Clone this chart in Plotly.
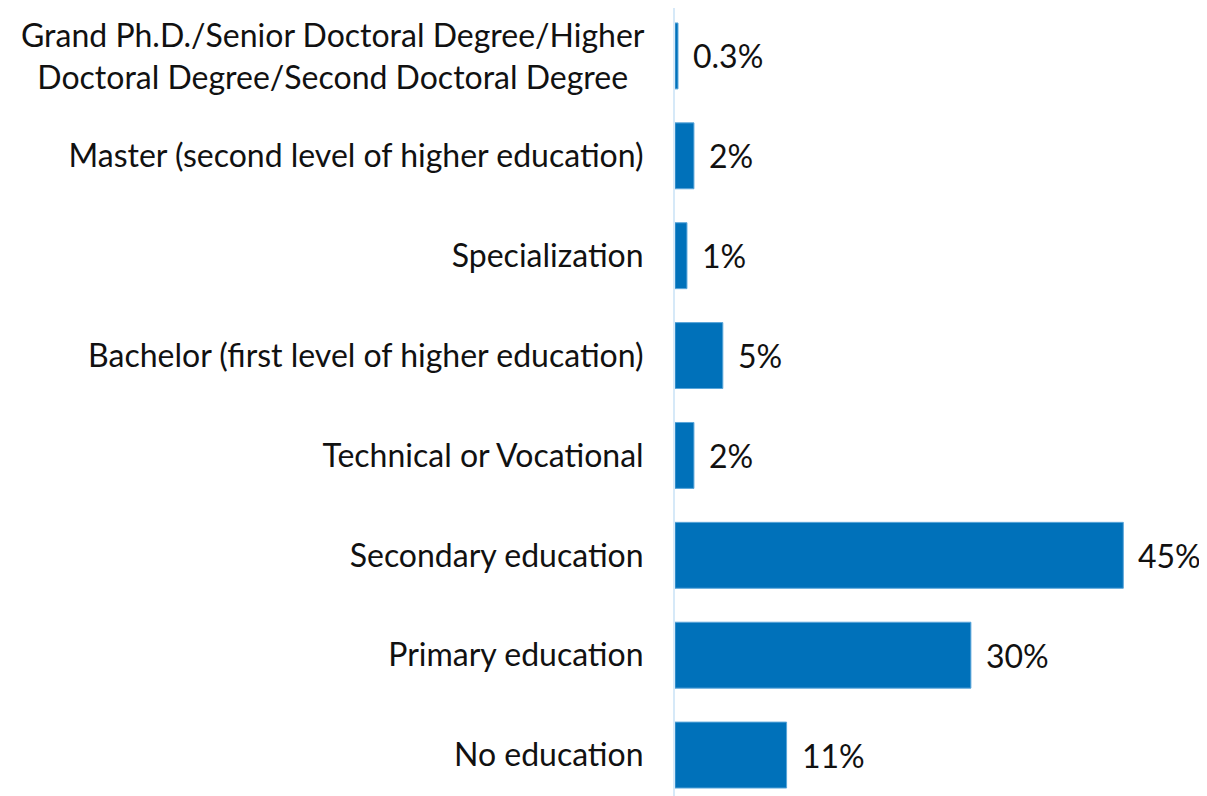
import plotly.graph_objects as go

categories = [
    "No education",
    "Primary education",
    "Secondary education",
    "Technical or Vocational",
    "Bachelor (first level of higher education)",
    "Specialization",
    "Master (second level of higher education)",
    "Grand Ph.D./Senior Doctoral Degree/Higher<br>Doctoral Degree/Second Doctoral Degree",
]
values = [11.2, 29.7, 45.0, 1.9, 4.8, 1.2, 1.9, 0.3]
labels = ["11%", "30%", "45%", "2%", "5%", "1%", "2%", "0.3%"]

BAR = "#0071BA"
FONT = "Lato, 'Noto Sans', sans-serif"
FS = 32

fig = go.Figure()
fig.add_trace(go.Bar(
    y=categories, x=values, orientation="h",
    marker=dict(color=BAR, line=dict(color="#5AA6DA", width=1)),
    hoverinfo="skip",
))

# value labels right of the bars
for c, v, t in zip(categories, values, labels):
    fig.add_annotation(x=v, y=c, text=t, showarrow=False, xanchor="left",
                       xshift=13, font=dict(size=FS, color="#111111", family=FONT))

# long two-line label, centred like the original
fig.add_annotation(x=0, y=categories[-1], xref="paper", text=categories[-1],
                   showarrow=False, xanchor="right", xshift=-28, align="center",
                   font=dict(size=FS, color="#111111", family=FONT))
ticktext = [c if "<br>" not in c else "" for c in categories]

fig.update_layout(
    width=1207, height=796,
    margin=dict(l=667, r=12, t=0, b=0),
    plot_bgcolor="white", paper_bgcolor="white",
    showlegend=False, bargap=0.34,
    font=dict(family=FONT, size=FS, color="#111111"),
    xaxis=dict(range=[0, 53], visible=False),
    yaxis=dict(range=[-0.49, 7.48], tickvals=categories, ticktext=ticktext,
               showline=True, linecolor="#D6E9F8", linewidth=2,
               showgrid=False, zeroline=False, ticks="", ticklabelstandoff=23),
)

fig.write_html("out.html")
